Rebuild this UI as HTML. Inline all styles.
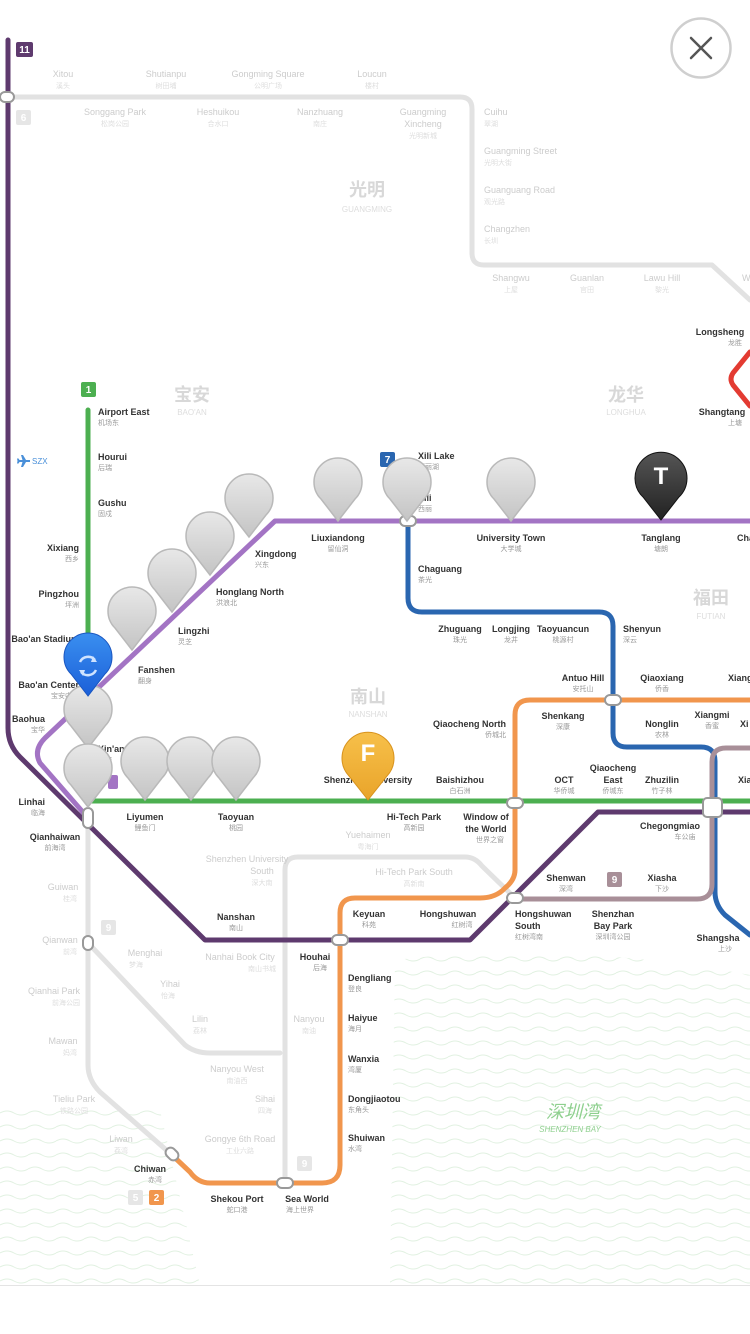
<!DOCTYPE html>
<html><head><meta charset="utf-8"><style>
html,body{margin:0;padding:0;background:#fff;}
svg{display:block;}
text{font-family:"Liberation Sans","Noto Sans CJK SC",sans-serif;}
.e{font-size:9px;font-weight:bold;fill:#333;}
.c{font-size:7px;fill:#999;}
.ge{font-size:9px;fill:#ccc;}
.gc{font-size:7px;fill:#ddd;}
.dist{font-size:18px;fill:#d8d8d8;font-weight:bold;}
.distE{font-size:8px;fill:#ddd;}
.m{text-anchor:middle;}
.r{text-anchor:end;}
.l{fill:none;stroke-width:5;stroke-linejoin:round;stroke-linecap:round;}
.ic{fill:#fff;stroke:#999;stroke-width:2;}
.pin{fill:url(#pg);stroke:#b9b9b9;stroke-width:1.5;}
</style></head><body>
<svg width="750" height="1334" viewBox="0 0 750 1334" xmlns="http://www.w3.org/2000/svg">
<defs>
<linearGradient id="pg" x1="0" y1="0" x2="0" y2="1"><stop offset="0" stop-color="#e8e8e8"/><stop offset="1" stop-color="#c4c4c4"/></linearGradient>
<linearGradient id="bg" x1="0" y1="0" x2="0" y2="1"><stop offset="0" stop-color="#3a8ff0"/><stop offset="1" stop-color="#1b5fd8"/></linearGradient>
<linearGradient id="og" x1="0" y1="0" x2="0" y2="1"><stop offset="0" stop-color="#f7c04a"/><stop offset="1" stop-color="#e9a42a"/></linearGradient>
<linearGradient id="kg" x1="0" y1="0" x2="0" y2="1"><stop offset="0" stop-color="#555"/><stop offset="1" stop-color="#222"/></linearGradient>
<pattern id="wv" width="28" height="14" patternUnits="userSpaceOnUse"><path d="M0 7 Q7 3 14 7 T28 7" fill="none" stroke="#e1f1e1" stroke-width="1"/></pattern>
</defs>
<rect width="750" height="1334" fill="#fff"/>
<path d="M395 960 Q560 940 750 975 L750 1285 L390 1285 Z" fill="url(#wv)"/>
<path d="M0 1110 L160 1110 L200 1285 L0 1285 Z" fill="url(#wv)"/>
<rect x="0" y="1285" width="750" height="49" fill="#fff"/>
<line x1="0" y1="1285.5" x2="750" y2="1285.5" stroke="#e4e4e4"/>

<g class="l" stroke="#e2e2e2">
<path d="M0 97 H460 Q472 97 472 109 V253 Q472 265 484 265 H712 L750 300"/>
<path d="M88 820 V1065 Q88 1080 100 1092 L172 1155"/>
<path d="M90 945 L185 1045 Q195 1053 210 1053 H280"/>
<path d="M285 1183 V870 Q285 857 298 857 H465 Q475 857 482 866 L515 898"/>
</g>
<path class="l" stroke="#5e3a6e" d="M8 40 V728 Q8 745 20 757 L205 940 H470 L598 812 H750"/>
<path class="l" stroke="#a374c4" d="M750 521 H275 L45 738 Q33 750 40 763 L88 818"/>
<rect x="108" y="775" width="10" height="14" fill="#a374c4" rx="2"/>
<path class="l" stroke="#4caf50" d="M88 410 V801 H750"/>
<path class="l" stroke="#2a66b0" d="M408 462 V598 Q408 612 422 612 H599 Q613 612 613 626 V733 Q613 747 627 747 H701 Q715 747 715 761 V892 Q715 905 725 915 L750 935"/>
<path class="l" stroke="#a88f98" d="M750 748 H726 Q712 748 712 762 V884 Q712 899 697 899 H515"/>
<path class="l" stroke="#f1964d" d="M750 700 H530 Q515 700 515 715 V870 Q515 880 505 888 Q496 898 480 898 H355 Q340 898 340 913 V1165 Q340 1183 322 1183 H210 Q198 1183 190 1172 L172 1155"/>
<path class="l" stroke="#e33b32" d="M750 352 L733 373 Q729 379 733 385 L750 406"/>

<rect class="ic" x="0" y="92" width="14" height="10" rx="5"/>
<rect class="ic" x="83" y="808" width="10" height="20" rx="5"/>
<rect class="ic" x="400" y="516" width="16" height="10" rx="5"/>
<rect class="ic" x="507" y="798" width="16" height="10" rx="5"/>
<rect class="ic" x="605" y="695" width="16" height="10" rx="5"/>
<rect class="ic" x="703" y="798" width="19" height="19" rx="4"/>
<rect class="ic" x="507" y="893" width="16" height="10" rx="5"/>
<rect class="ic" x="332" y="935" width="16" height="10" rx="5"/>
<rect class="ic" x="277" y="1178" width="16" height="10" rx="5"/>
<rect class="ic" x="165" y="1149" width="14" height="10" rx="5" transform="rotate(45 172 1154)"/>
<rect class="ic" x="83" y="936" width="10" height="14" rx="5" stroke="#ccc"/>

<g font-size="10" font-weight="bold" fill="#fff" text-anchor="middle" font-family="Liberation Sans,sans-serif">
<rect x="16" y="42" width="17" height="15" fill="#5e3a6e" rx="2"/><text x="24.5" y="53">11</text>
<rect x="16" y="110" width="15" height="15" fill="#e6e6e6" rx="2"/><text x="23.5" y="121">6</text>
<rect x="81" y="382" width="15" height="15" fill="#4caf50" rx="2"/><text x="88.5" y="393">1</text>
<rect x="380" y="452" width="15" height="15" fill="#2a66b0" rx="2"/><text x="387.5" y="463">7</text>
<rect x="607" y="872" width="15" height="15" fill="#a88f98" rx="2"/><text x="614.5" y="883">9</text>
<rect x="101" y="920" width="15" height="15" fill="#e6e6e6" rx="2"/><text x="108.5" y="931">9</text>
<rect x="297" y="1156" width="15" height="15" fill="#e6e6e6" rx="2"/><text x="304.5" y="1167">9</text>
<rect x="128" y="1190" width="15" height="15" fill="#e6e6e6" rx="2"/><text x="135.5" y="1201">5</text>
<rect x="149" y="1190" width="15" height="15" fill="#f1964d" rx="2"/><text x="156.5" y="1201">2</text>
</g>

<text class="dist m" x="367" y="196">光明</text><text class="distE m" x="367" y="212">GUANGMING</text>
<text class="dist m" x="192" y="401">宝安</text><text class="distE m" x="192" y="415">BAO'AN</text>
<text class="dist m" x="626" y="401">龙华</text><text class="distE m" x="626" y="415">LONGHUA</text>
<text class="dist m" x="711" y="604">福田</text><text class="distE m" x="711" y="619">FUTIAN</text>
<text class="dist m" x="368" y="703">南山</text><text class="distE m" x="368" y="717">NANSHAN</text>
<text class="m" x="573" y="1118" font-size="18" fill="#8fd08f" font-style="italic">深圳湾</text>
<text class="m" x="570" y="1132" font-size="8" fill="#8fd08f" font-style="italic">SHENZHEN BAY</text>

<g>
<text class="ge m" x="63" y="77">Xitou</text><text class="gc m" x="63" y="88">溪头</text>
<text class="ge m" x="166" y="77">Shutianpu</text><text class="gc m" x="166" y="88">树田埔</text>
<text class="ge m" x="268" y="77">Gongming Square</text><text class="gc m" x="268" y="88">公明广场</text>
<text class="ge m" x="372" y="77">Loucun</text><text class="gc m" x="372" y="88">楼村</text>
<text class="ge m" x="115" y="115">Songgang Park</text><text class="gc m" x="115" y="126">松岗公园</text>
<text class="ge m" x="218" y="115">Heshuikou</text><text class="gc m" x="218" y="126">合水口</text>
<text class="ge m" x="320" y="115">Nanzhuang</text><text class="gc m" x="320" y="126">南庄</text>
<text class="ge m" x="423" y="115">Guangming</text><text class="ge m" x="423" y="127">Xincheng</text><text class="gc m" x="423" y="138">光明新城</text>
<text class="ge" x="484" y="115">Cuihu</text><text class="gc" x="484" y="126">翠湖</text>
<text class="ge" x="484" y="154">Guangming Street</text><text class="gc" x="484" y="165">光明大街</text>
<text class="ge" x="484" y="193">Guanguang Road</text><text class="gc" x="484" y="204">观光路</text>
<text class="ge" x="484" y="232">Changzhen</text><text class="gc" x="484" y="243">长圳</text>
<text class="ge m" x="511" y="281">Shangwu</text><text class="gc m" x="511" y="292">上屋</text>
<text class="ge m" x="587" y="281">Guanlan</text><text class="gc m" x="587" y="292">官田</text>
<text class="ge m" x="662" y="281">Lawu Hill</text><text class="gc m" x="662" y="292">黎光</text>
<text class="ge" x="742" y="281">W</text>
<text class="ge m" x="368" y="838">Yuehaimen</text><text class="gc m" x="368" y="849">粤海门</text>
<text class="ge m" x="247" y="862">Shenzhen University</text><text class="ge m" x="262" y="874">South</text><text class="gc m" x="262" y="885">深大南</text>
<text class="ge m" x="414" y="875">Hi-Tech Park South</text><text class="gc m" x="414" y="886">高新南</text>
<text class="ge m" x="240" y="960">Nanhai Book City</text><text class="gc m" x="262" y="971">南山书城</text>
<text class="ge m" x="309" y="1022">Nanyou</text><text class="gc m" x="309" y="1033">南油</text>
<text class="ge m" x="237" y="1072">Nanyou West</text><text class="gc m" x="237" y="1083">南油西</text>
<text class="ge m" x="265" y="1102">Sihai</text><text class="gc m" x="265" y="1113">四海</text>
<text class="ge m" x="240" y="1142">Gongye 6th Road</text><text class="gc m" x="240" y="1153">工业六路</text>
<text class="ge m" x="63" y="890">Guiwan</text><text class="gc m" x="70" y="901">桂湾</text>
<text class="ge m" x="60" y="943">Qianwan</text><text class="gc m" x="70" y="954">前湾</text>
<text class="ge m" x="54" y="994">Qianhai Park</text><text class="gc m" x="66" y="1005">前海公园</text>
<text class="ge m" x="63" y="1044">Mawan</text><text class="gc m" x="70" y="1055">妈湾</text>
<text class="ge m" x="74" y="1102">Tieliu Park</text><text class="gc m" x="74" y="1113">铁路公园</text>
<text class="ge m" x="121" y="1142">Liwan</text><text class="gc m" x="121" y="1153">荔湾</text>
<text class="ge m" x="145" y="956">Menghai</text><text class="gc m" x="136" y="967">梦海</text>
<text class="ge m" x="170" y="987">Yihai</text><text class="gc m" x="168" y="998">怡海</text>
<text class="ge m" x="200" y="1022">Lilin</text><text class="gc m" x="200" y="1033">荔林</text>
<text x="32" y="464" font-size="8" fill="#4a90d9">SZX</text>
<path d="M21 455 l2 0 l3 5 l4 0 l0 2 l-4 0 l-3 5 l-2 0 l1.5 -5 l-3 0 l-1 1.5 l-1.5 0 l0.5 -2.5 l-0.5 -2.5 l1.5 0 l1 1.5 l3 0z" fill="#4a90d9"/>
</g>

<g>
<text class="e m" x="720" y="335">Longsheng</text><text class="c m" x="735" y="345">龙胜</text>
<text class="e m" x="722" y="415">Shangtang</text><text class="c m" x="735" y="425">上塘</text>
<text class="e" x="98" y="415">Airport East</text><text class="c" x="98" y="425">机场东</text>
<text class="e" x="98" y="460">Hourui</text><text class="c" x="98" y="470">后瑞</text>
<text class="e" x="98" y="506">Gushu</text><text class="c" x="98" y="516">固戍</text>
<text class="e r" x="79" y="551">Xixiang</text><text class="c r" x="79" y="561">西乡</text>
<text class="e r" x="79" y="597">Pingzhou</text><text class="c r" x="79" y="607">坪洲</text>
<text class="e r" x="79" y="642">Bao'an Stadium</text><text class="c r" x="79" y="652">宝体</text>
<text class="e r" x="79" y="688">Bao'an Center</text><text class="c r" x="79" y="698">宝安中心</text>
<text class="e r" x="45" y="722">Baohua</text><text class="c r" x="45" y="732">宝华</text>
<text class="e" x="98" y="752">Xin'an</text><text class="c" x="98" y="762">新安</text>
<text class="e r" x="45" y="805">Linhai</text><text class="c r" x="45" y="815">临海</text>
<text class="e m" x="55" y="840">Qianhaiwan</text><text class="c m" x="55" y="850">前海湾</text>
<text class="e m" x="145" y="820">Liyumen</text><text class="c m" x="145" y="830">鲤鱼门</text>
<text class="e m" x="236" y="820">Taoyuan</text><text class="c m" x="236" y="830">桃园</text>
<text class="e m" x="368" y="783">Shenzhen University</text>
<text class="e m" x="414" y="820">Hi-Tech Park</text><text class="c m" x="414" y="830">高新园</text>
<text class="e m" x="460" y="783">Baishizhou</text><text class="c m" x="460" y="793">白石洲</text>
<text class="e m" x="486" y="820">Window of</text><text class="e m" x="486" y="832">the World</text><text class="c m" x="490" y="842">世界之窗</text>
<text class="e r" x="506" y="727">Qiaocheng North</text><text class="c r" x="506" y="737">侨城北</text>
<text class="e m" x="564" y="783">OCT</text><text class="c m" x="564" y="793">华侨城</text>
<text class="e m" x="613" y="771">Qiaocheng</text><text class="e m" x="613" y="783">East</text><text class="c m" x="613" y="793">侨城东</text>
<text class="e m" x="662" y="783">Zhuzilin</text><text class="c m" x="662" y="793">竹子林</text>
<text class="e" x="738" y="783">Xia</text>
<text class="e" x="138" y="673">Fanshen</text><text class="c" x="138" y="683">翻身</text>
<text class="e" x="178" y="634">Lingzhi</text><text class="c" x="178" y="644">灵芝</text>
<text class="e" x="216" y="595">Honglang North</text><text class="c" x="216" y="605">洪浪北</text>
<text class="e" x="255" y="557">Xingdong</text><text class="c" x="255" y="567">兴东</text>
<text class="e m" x="338" y="541">Liuxiandong</text><text class="c m" x="338" y="551">留仙洞</text>
<text class="e" x="418" y="459">Xili Lake</text><text class="c" x="418" y="469">西丽湖</text>
<text class="e" x="418" y="501">Xili</text><text class="c" x="418" y="511">西丽</text>
<text class="e m" x="511" y="541">University Town</text><text class="c m" x="511" y="551">大学城</text>
<text class="e m" x="661" y="541">Tanglang</text><text class="c m" x="661" y="551">塘朗</text>
<text class="e" x="737" y="541">Cha</text>
<text class="e" x="418" y="572">Chaguang</text><text class="c" x="418" y="582">茶光</text>
<text class="e m" x="460" y="632">Zhuguang</text><text class="c m" x="460" y="642">珠光</text>
<text class="e m" x="511" y="632">Longjing</text><text class="c m" x="511" y="642">龙井</text>
<text class="e m" x="563" y="632">Taoyuancun</text><text class="c m" x="563" y="642">桃源村</text>
<text class="e" x="623" y="632">Shenyun</text><text class="c" x="623" y="642">深云</text>
<text class="e m" x="583" y="681">Antuo Hill</text><text class="c m" x="583" y="691">安托山</text>
<text class="e m" x="662" y="681">Qiaoxiang</text><text class="c m" x="662" y="691">侨香</text>
<text class="e" x="728" y="681">Xiang</text>
<text class="e m" x="563" y="719">Shenkang</text><text class="c m" x="563" y="729">深康</text>
<text class="e m" x="662" y="727">Nonglin</text><text class="c m" x="662" y="737">农林</text>
<text class="e m" x="712" y="718">Xiangmi</text><text class="c m" x="712" y="728">香蜜</text>
<text class="e" x="740" y="727">Xi</text>
<text class="e m" x="670" y="829">Chegongmiao</text><text class="c m" x="685" y="839">车公庙</text>
<text class="e m" x="566" y="881">Shenwan</text><text class="c m" x="566" y="891">深湾</text>
<text class="e m" x="662" y="881">Xiasha</text><text class="c m" x="662" y="891">下沙</text>
<text class="e m" x="613" y="917">Shenzhan</text><text class="e m" x="613" y="929">Bay Park</text><text class="c m" x="613" y="939">深圳湾公园</text>
<text class="e" x="515" y="917">Hongshuwan</text><text class="e" x="515" y="929">South</text><text class="c" x="515" y="939">红树湾南</text>
<text class="e m" x="718" y="941">Shangsha</text><text class="c m" x="725" y="951">上沙</text>
<text class="e m" x="448" y="917">Hongshuwan</text><text class="c m" x="462" y="927">红树湾</text>
<text class="e m" x="369" y="917">Keyuan</text><text class="c m" x="369" y="927">科苑</text>
<text class="e m" x="236" y="920">Nanshan</text><text class="c m" x="236" y="930">南山</text>
<text class="e m" x="315" y="960">Houhai</text><text class="c m" x="320" y="970">后海</text>
<text class="e" x="348" y="981">Dengliang</text><text class="c" x="348" y="991">登良</text>
<text class="e" x="348" y="1021">Haiyue</text><text class="c" x="348" y="1031">海月</text>
<text class="e" x="348" y="1062">Wanxia</text><text class="c" x="348" y="1072">湾厦</text>
<text class="e" x="348" y="1102">Dongjiaotou</text><text class="c" x="348" y="1112">东角头</text>
<text class="e" x="348" y="1141">Shuiwan</text><text class="c" x="348" y="1151">水湾</text>
<text class="e m" x="150" y="1172">Chiwan</text><text class="c m" x="155" y="1182">赤湾</text>
<text class="e m" x="237" y="1202">Shekou Port</text><text class="c m" x="237" y="1212">蛇口港</text>
<text class="e m" x="307" y="1202">Sea World</text><text class="c m" x="300" y="1212">海上世界</text>
</g>

<g>
<path class="pin" d="M132 650 L115 628 A24 24 0 1 1 149 628 Z"/>
<path class="pin" d="M172 612 L155 590 A24 24 0 1 1 189 590 Z"/>
<path class="pin" d="M210 575 L193 553 A24 24 0 1 1 227 553 Z"/>
<path class="pin" d="M249 537 L232 515 A24 24 0 1 1 266 515 Z"/>
<path class="pin" d="M338 521 L321 499 A24 24 0 1 1 355 499 Z"/>
<path class="pin" d="M407 521 L390 499 A24 24 0 1 1 424 499 Z"/>
<path class="pin" d="M511 521 L494 499 A24 24 0 1 1 528 499 Z"/>
<path class="pin" d="M88 748 L71 726 A24 24 0 1 1 105 726 Z"/>
<path class="pin" d="M88 807 L71 785 A24 24 0 1 1 105 785 Z"/>
<path class="pin" d="M145 800 L128 778 A24 24 0 1 1 162 778 Z"/>
<path class="pin" d="M191 800 L174 778 A24 24 0 1 1 208 778 Z"/>
<path class="pin" d="M236 800 L219 778 A24 24 0 1 1 253 778 Z"/>
</g>
<path d="M88 696 L71 674 A24 24 0 1 1 105 674 Z" fill="url(#bg)" stroke="#1a56c0"/>
<path d="M80 662 A9 9 0 0 1 95 660" fill="none" stroke="#cfe3ff" stroke-width="2.5"/>
<path d="M96 670 A9 9 0 0 1 81 672" fill="none" stroke="#cfe3ff" stroke-width="2.5"/>
<path d="M93 656 L97 662 L91 662Z M83 676 L79 670 L85 670Z" fill="#cfe3ff"/>
<path d="M368 800 L349 776 A26 26 0 1 1 387 776 Z" fill="url(#og)" stroke="#d8921c"/>
<text x="368" y="761" text-anchor="middle" font-size="24" font-weight="bold" fill="#fff">F</text>
<path d="M661 520 L643 497 A26 26 0 1 1 679 497 Z" fill="url(#kg)" stroke="#111"/>
<text x="661" y="484" text-anchor="middle" font-size="24" font-weight="bold" fill="#fff">T</text>

<circle cx="701" cy="48" r="29.5" fill="#fff" stroke="#cfcfcf" stroke-width="2.5"/>
<path d="M691 38 L711 58 M711 38 L691 58" stroke="#555" stroke-width="2.5" stroke-linecap="round"/>
</svg>
</body></html>
